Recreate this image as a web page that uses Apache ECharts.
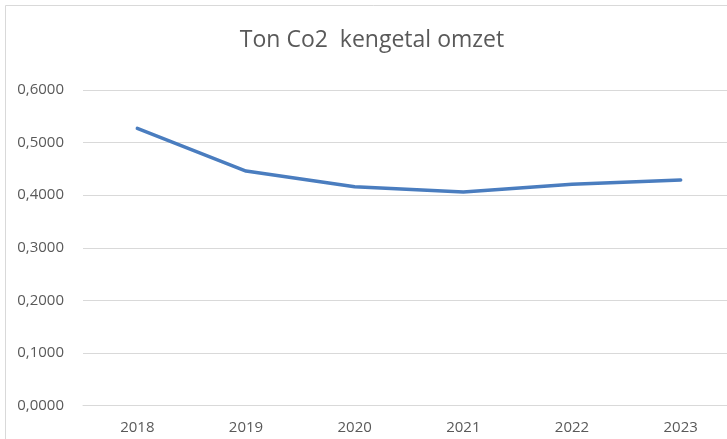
<!DOCTYPE html>
<html>
<head>
<meta charset="utf-8">
<script src="https://cdn.jsdelivr.net/npm/echarts@6/dist/echarts.min.js"></script>
<style>
html,body{margin:0;padding:0;background:#fff;overflow:hidden;width:727px;height:439px;}
#c{width:740px;height:439px;}
</style>
</head>
<body>
<div id="c"></div>
<script>
const categories = ['2018', '2019', '2020', '2021', '2022', '2023'];
const values = [0.527, 0.446, 0.416, 0.406, 0.421, 0.429];
const yTicks = { min: 0, max: 0.6, interval: 0.1 };
const titleText = 'Ton Co2  kengetal omzet';

const chart = echarts.init(document.getElementById('c'), null, { renderer: 'canvas' });
chart.setOption({
  animation: false,
  backgroundColor: '#ffffff',
  title: {
    text: titleText,
    left: 367,
    textAlign: 'center',
    top: 24,
    textStyle: { fontFamily: 'Open Sans', fontSize: 23, fontWeight: 'normal', color: '#595959' }
  },
  graphic: [{
    type: 'rect',
    shape: { x: 5.5, y: 5.5, width: 900, height: 900 },
    style: { fill: 'none', stroke: '#d9d9d9', lineWidth: 1 },
    silent: true
  }],
  grid: { left: 83, top: 90, width: 652, bottom: 33.3, containLabel: false },
  xAxis: {
    type: 'category',
    data: categories,
    boundaryGap: true,
    axisLine: { show: true, lineStyle: { color: '#d9d9d9', width: 1 } },
    axisTick: { show: false },
    axisLabel: { margin: 15, fontFamily: 'Open Sans', fontSize: 15, color: '#595959' },
    splitLine: { show: false }
  },
  yAxis: {
    type: 'value',
    min: yTicks.min,
    max: yTicks.max,
    interval: yTicks.interval,
    axisLine: { show: false },
    axisTick: { show: false },
    splitLine: { show: true, lineStyle: { color: '#d9d9d9', width: 1 } },
    axisLabel: {
      margin: 19,
      fontFamily: 'Open Sans', fontSize: 15, color: '#595959',
      formatter: v => v.toFixed(4).replace('.', ',')
    }
  },
  series: [{
    type: 'line',
    data: values,
    symbol: 'none',
    lineStyle: { color: '#4a7dbf', width: 3.5, cap: 'round', join: 'round' },
    itemStyle: { color: '#4a7dbf' }
  }]
});
</script>
</body>
</html>
